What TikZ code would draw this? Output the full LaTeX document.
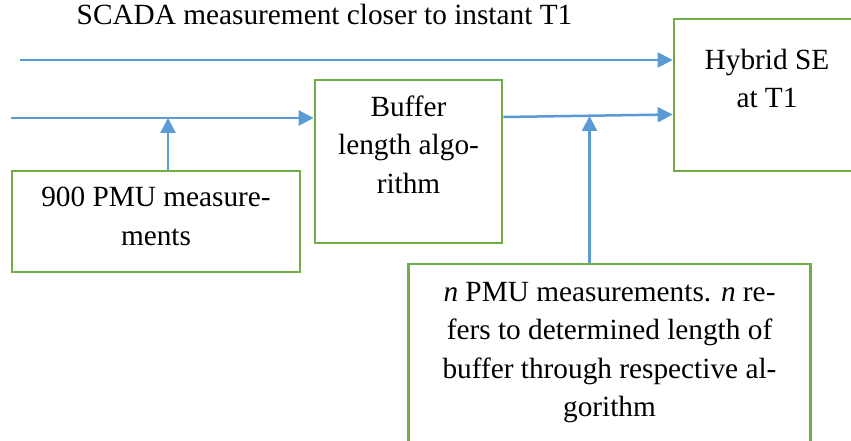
\documentclass[tikz,border=0pt]{standalone}
\usepackage{fontspec}
\setmainfont{Liberation Serif}
\usetikzlibrary{arrows.meta,positioning}

\definecolor{sigblue}{HTML}{5B9BD5}
\definecolor{boxgreen}{HTML}{70AD47}

\begin{document}
\begin{tikzpicture}[x=1pt,y=-1pt,
	blk/.style={draw=boxgreen,line width=2.7pt,rectangle,inner sep=0pt},
	txt/.style={align=center,inner sep=0pt,anchor=north,font=\fontsize{29.3}{38.5}\selectfont},
	sig/.style={draw=sigblue,line width=2.5pt,-{Triangle[length=15pt,width=15pt]}}]
	\useasboundingbox (0,0) rectangle (851,441);
	\clip (0,0) rectangle (851,441);

	\node[blk,minimum width=186pt,minimum height=152pt] (hse) at (767,95) {};
	\node[blk,minimum width=187pt,minimum height=163pt] (buf) at (408.5,161.5) {};
	\node[blk,minimum width=288pt,minimum height=101pt] (pmu) at (156,221.5) {};
	\node[blk,minimum width=402pt,minimum height=196pt] (npmu) at (609.5,362) {};

	\node[txt,below=31pt of hse.north] (hse_t) {Hybrid SE\\at T1};
	\node[txt,below=17pt of buf.north] (buf_t) {Buffer\\length algo-\\rithm};
	\node[txt,below=17.5pt of pmu.north] (pmu_t) {900 PMU measure-\\ments};
	\node[txt,below=19pt of npmu.north] (npmu_t) {\textit{n} PMU measurements. \textit{n} re-\\fers to determined length of\\buffer through respective al-\\gorithm};
	\node[txt,anchor=base] (scada_t) at (324.5,25) {SCADA measurement closer to instant T1};

	\coordinate (scada_in) at (20,60);
	\coordinate (pmu_in) at (11,118);
	\coordinate (j_pmu) at (168,118);
	\coordinate (j_npmu) at (589.5,116);

	\draw[sig] (scada_in) -- (scada_in -| hse.west);
	\draw[sig] (pmu_in) -- (pmu_in -| buf.west);
	\draw[sig] (buf.east |- 0,117) -- (hse.west |- 0,114.5);
	\draw[sig] (j_pmu |- pmu.north) -- (j_pmu);
	\draw[sig] (j_npmu |- npmu.north) -- (j_npmu);

\end{tikzpicture}
\end{document}
